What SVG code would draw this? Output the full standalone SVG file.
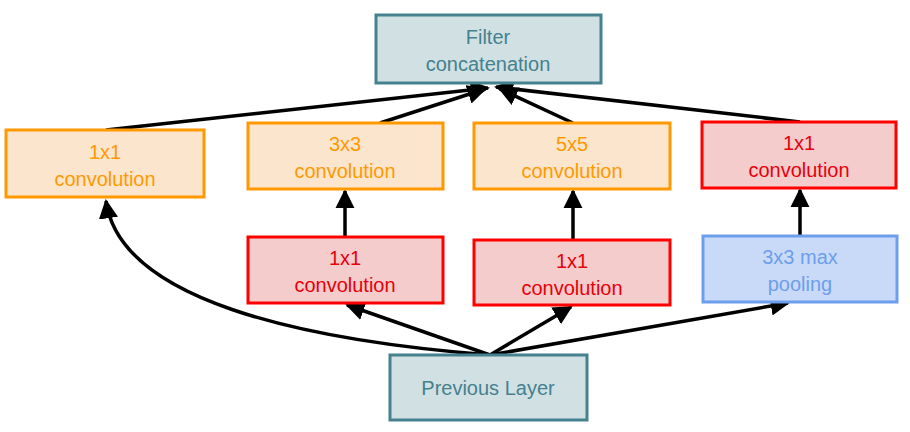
<svg xmlns="http://www.w3.org/2000/svg" width="910" height="432" viewBox="0 0 910 432">
<style>
text{font-family:"Liberation Sans",Arial,sans-serif;font-size:20px;text-anchor:middle}
.o rect{fill:#fce5cd;stroke:#ff9900;stroke-width:3}
.o text{fill:#ff9900}
.r rect{fill:#f4cccc;stroke:#ff0000;stroke-width:3}
.r text{fill:#e8000b}
.b rect{fill:#c9daf8;stroke:#6d9eeb;stroke-width:3}
.b text{fill:#6d9eeb}
.t rect{fill:#d0e0e3;stroke:#45818e;stroke-width:3}
.t text{fill:#45818e}
#edges path{fill:none;stroke:#000;stroke-width:3.5;marker-end:url(#a)}
</style>
<defs><marker id="a" viewBox="0 0 10 10" refX="9" refY="5" markerWidth="5.5" markerHeight="5.5" orient="auto" markerUnits="strokeWidth"><path d="M0,0L10,5L0,10z" fill="#000"/></marker></defs>
<g id="edges">
<path d="M106,130L488,88"/>
<path d="M380,123L485,89"/>
<path d="M573,123L500,89"/>
<path d="M800,122L496,87"/>
<path d="M345,237L345,191"/>
<path d="M573,240L573,191"/>
<path d="M800,236L800,190"/>
<path d="M490,355C300,340 120,300 106,201"/>
<path d="M490,355L347,305"/>
<path d="M490,355L571,307"/>
<path d="M490,355L788,303"/>
</g>
<g id="concat" class="t"><rect x="376" y="15" width="225" height="68"/><text x="488" y="44">Filter</text><text x="488" y="71">concatenation</text></g>
<g id="c1" class="o"><rect x="6" y="130" width="198" height="67"/><text x="105" y="159">1x1</text><text x="105" y="186">convolution</text></g>
<g id="c3" class="o"><rect x="248" y="123" width="195" height="66"/><text x="345" y="151">3x3</text><text x="345" y="178">convolution</text></g>
<g id="c5" class="o"><rect x="474" y="123" width="196" height="66"/><text x="572" y="151">5x5</text><text x="572" y="178">convolution</text></g>
<g id="c1p" class="r"><rect x="702" y="122" width="194" height="66"/><text x="799" y="150">1x1</text><text x="799" y="177">convolution</text></g>
<g id="r3" class="r"><rect x="248" y="237" width="195" height="66"/><text x="345" y="265">1x1</text><text x="345" y="292">convolution</text></g>
<g id="r5" class="r"><rect x="474" y="240" width="196" height="65"/><text x="572" y="268">1x1</text><text x="572" y="295">convolution</text></g>
<g id="pool" class="b"><rect x="703" y="236" width="194" height="66"/><text x="800" y="264">3x3 max</text><text x="800" y="291">pooling</text></g>
<g id="prev" class="t"><rect x="390" y="355" width="197" height="65"/><text x="488" y="395">Previous Layer</text></g>
</svg>
